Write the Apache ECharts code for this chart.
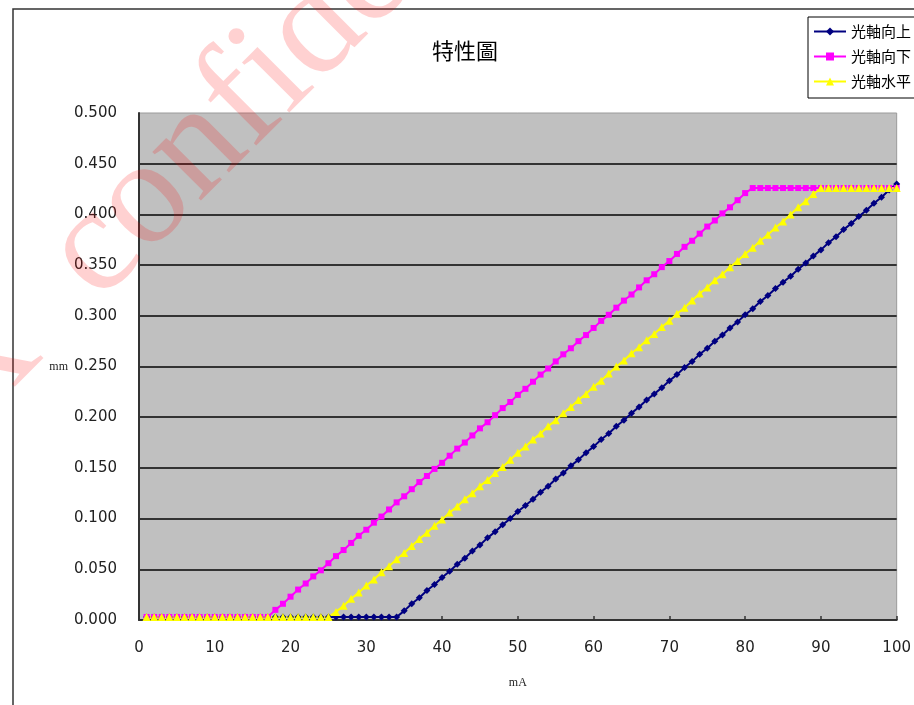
<!DOCTYPE html>
<html>
<head>
<meta charset="utf-8">
<script src="https://cdn.jsdelivr.net/npm/echarts@6/dist/echarts.min.js"></script>
<style>
html,body{margin:0;padding:0;background:#fff;}
#chart{width:914px;height:705px;}
</style>
</head>
<body>
<div id="chart"></div>
<script>
// x values (mA)
var xValues = [1,2,3,4,5,6,7,8,9,10,11,12,13,14,15,16,17,18,19,20,21,22,23,24,25,26,27,28,29,30,31,32,33,34,35,36,37,38,39,40,41,42,43,44,45,46,47,48,49,50,51,52,53,54,55,56,57,58,59,60,61,62,63,64,65,66,67,68,69,70,71,72,73,74,75,76,77,78,79,80,81,82,83,84,85,86,87,88,89,90,91,92,93,94,95,96,97,98,99,100];

var seriesNames = ['光軸向上', '光軸向下', '光軸水平'];

// 光軸向上 (mm)
var upValues = [
0.003,0.003,0.003,0.003,0.003,0.003,0.003,0.003,0.003,0.003,
0.003,0.003,0.003,0.003,0.003,0.003,0.003,0.003,0.003,0.003,
0.003,0.003,0.003,0.003,0.003,0.003,0.003,0.003,0.003,0.003,
0.003,0.003,0.003,0.003,
0.009,0.016,0.022,0.029,0.035,0.042,0.048,0.055,0.061,0.068,
0.074,0.081,0.087,0.094,0.100,0.107,0.113,0.119,0.126,0.132,
0.139,0.145,0.152,0.158,0.165,0.171,0.178,0.184,0.191,0.197,
0.204,0.210,0.217,0.223,0.229,0.236,0.242,0.249,0.255,0.262,
0.268,0.275,0.281,0.288,0.294,0.301,0.307,0.314,0.320,0.327,
0.333,0.339,0.346,0.352,0.359,0.365,0.372,0.378,0.385,0.391,
0.398,0.404,0.411,0.417,0.424,0.430];

// 光軸向下 (mm)
var downValues = [
0.003,0.003,0.003,0.003,0.003,0.003,0.003,0.003,0.003,0.003,
0.003,0.003,0.003,0.003,0.003,0.003,0.003,
0.010,0.016,0.023,0.030,0.036,0.043,0.049,0.056,0.063,0.069,
0.076,0.083,0.089,0.096,0.102,0.109,0.116,0.122,0.129,0.136,
0.142,0.149,0.155,0.162,0.169,0.175,0.182,0.189,0.195,0.202,
0.209,0.215,0.222,0.228,0.235,0.242,0.248,0.255,0.262,0.268,
0.275,0.281,0.288,0.295,0.301,0.308,0.315,0.321,0.328,0.335,
0.341,0.348,0.354,0.361,0.368,0.374,0.381,0.388,0.394,0.401,
0.407,0.414,0.421,
0.426,0.426,0.426,0.426,0.426,0.426,0.426,0.426,0.426,0.426,
0.426,0.426,0.426,0.426,0.426,0.426,0.426,0.426,0.426,0.426];

// 光軸水平 (mm)
var levelValues = [
0.003,0.003,0.003,0.003,0.003,0.003,0.003,0.003,0.003,0.003,
0.003,0.003,0.003,0.003,0.003,0.003,0.003,0.003,0.003,0.003,
0.003,0.003,0.003,0.003,0.003,
0.008,0.014,0.021,0.027,0.034,0.040,0.047,0.053,0.060,0.066,
0.073,0.080,0.086,0.093,0.099,0.106,0.112,0.119,0.125,0.132,
0.138,0.145,0.151,0.158,0.165,0.171,0.178,0.184,0.191,0.197,
0.204,0.210,0.217,0.223,0.230,0.236,0.243,0.250,0.256,0.263,
0.269,0.276,0.282,0.289,0.295,0.302,0.308,0.315,0.322,0.328,
0.335,0.341,0.348,0.354,0.361,0.367,0.374,0.380,0.387,0.393,
0.400,0.407,0.413,0.420,
0.426,0.426,0.426,0.426,0.426,0.426,0.426,0.426,0.426,0.426,0.426];

var titleText = '特性圖';
var xAxisName = 'mA';
var yAxisName = 'mm';
var watermarkText = 'X  confidential';

function pairs(vals) {
  return xValues.map(function (x, i) { return [x, vals[i]]; });
}

var chart = echarts.init(document.getElementById('chart'), null, {renderer: 'canvas'});

var option = {
  backgroundColor: '#ffffff',
  animation: false,
  title: {
    text: titleText,
    left: 432,
    top: 40,
    padding: 0,
    textStyle: {fontFamily: 'Noto Sans CJK TC', fontSize: 22, fontWeight: 'normal', color: '#000'}
  },
  legend: {
    orient: 'vertical',
    left: 808,
    top: 17,
    padding: [7, 8, 9, 5],
    itemGap: 10,
    itemWidth: 32,
    itemHeight: 10,
    backgroundColor: '#ffffff',
    borderColor: '#000',
    borderWidth: 1,
    borderRadius: 0,
    textStyle: {fontFamily: 'Noto Sans CJK TC', fontSize: 15, lineHeight: 15, color: '#000'},
    data: seriesNames
  },
  grid: {
    left: 139, right: 13, top: 113, bottom: 85,
    show: true,
    backgroundColor: '#c0c0c0',
    borderColor: '#9a9a9a',
    borderWidth: 1
  },
  xAxis: {
    type: 'value',
    min: 0, max: 100, interval: 10,
    name: xAxisName,
    nameLocation: 'middle',
    nameGap: 57,
    nameTextStyle: {fontFamily: 'Liberation Serif', fontSize: 12, color: '#222'},
    axisLine: {show: true, onZero: false, lineStyle: {color: '#333', width: 2}},
    axisTick: {show: true, inside: true, length: 4, lineStyle: {color: '#333', width: 1.5}},
    axisLabel: {margin: 21, fontFamily: 'DejaVu Sans', fontSize: 15, color: '#222'},
    splitLine: {show: false}
  },
  yAxis: {
    type: 'value',
    min: 0, max: 0.5, interval: 0.05,
    name: yAxisName,
    nameLocation: 'middle',
    nameRotate: 0,
    nameGap: 71,
    nameTextStyle: {fontFamily: 'Liberation Serif', fontSize: 12, color: '#222'},
    axisLine: {show: true, lineStyle: {color: '#333', width: 2}},
    axisTick: {show: false},
    axisLabel: {
      margin: 22, fontFamily: 'DejaVu Sans', fontSize: 15, color: '#222',
      formatter: function (v) { return v.toFixed(3); }
    },
    splitLine: {show: true, showMinLine: false, showMaxLine: false, lineStyle: {color: '#333', width: 2}}
  },
  graphic: [
    {
      type: 'rect', z: 0, silent: true,
      shape: {x: 13, y: 9, width: 1000, height: 1000},
      style: {fill: 'none', stroke: '#333', lineWidth: 1.5}
    },
    {
      type: 'text', z: 100, silent: true,
      x: -59, y: 405, rotation: Math.PI / 4,
      style: {
        text: watermarkText,
        font: '150px "Liberation Serif"',
        fill: 'rgba(255,0,0,0.18)',
        textAlign: 'left',
        textVerticalAlign: 'middle'
      }
    }
  ],
  series: [
    {
      name: seriesNames[0], type: 'line', data: pairs(upValues),
      symbol: 'diamond', symbolSize: 7, showAllSymbol: true,
      itemStyle: {color: '#000080'},
      lineStyle: {color: '#000080', width: 2}
    },
    {
      name: seriesNames[1], type: 'line', data: pairs(downValues),
      symbol: 'rect', symbolSize: 6, showAllSymbol: true,
      itemStyle: {color: '#ff00ff'},
      lineStyle: {color: '#ff00ff', width: 2}
    },
    {
      name: seriesNames[2], type: 'line', data: pairs(levelValues),
      symbol: 'triangle', symbolSize: 8, showAllSymbol: true,
      itemStyle: {color: '#ffff00'},
      lineStyle: {color: '#ffff00', width: 2}
    }
  ]
};
chart.setOption(option);
</script>
</body>
</html>
